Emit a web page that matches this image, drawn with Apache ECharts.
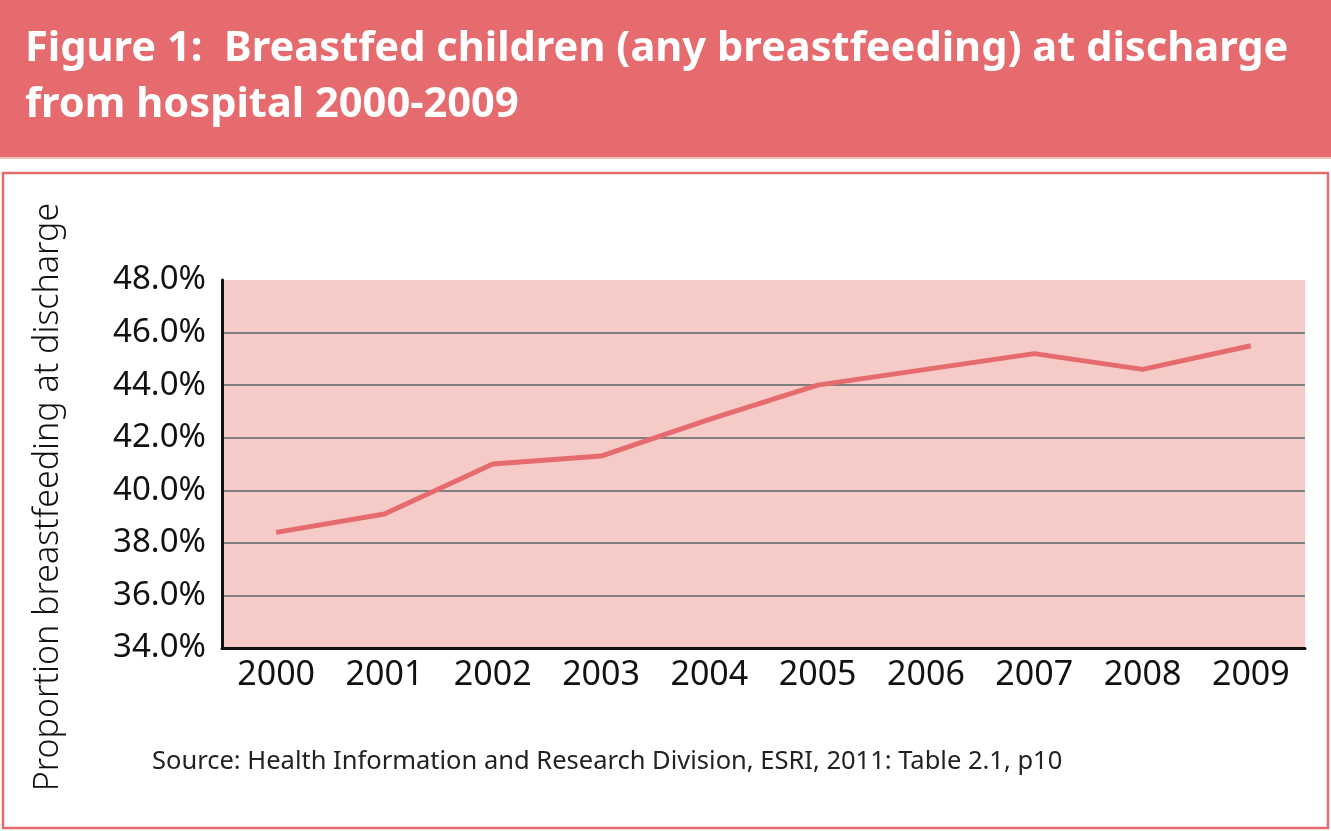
<!DOCTYPE html>
<html>
<head>
<meta charset="utf-8">
<script src="https://cdn.jsdelivr.net/npm/echarts@6/dist/echarts.min.js"></script>
<style>
html,body{margin:0;padding:0;background:#fff;}
#main{width:1331px;height:831px;}
</style>
</head>
<body>
<div id="main"></div>
<script>
const titleLines = ['Figure 1:  Breastfed children (any breastfeeding) at discharge', 'from hospital 2000-2009'];
const sourceText = 'Source: Health Information and Research Division, ESRI, 2011: Table 2.1, p10';
const yAxisTitle = 'Proportion breastfeeding at discharge';
const years = ['2000','2001','2002','2003','2004','2005','2006','2007','2008','2009'];
const breastfedPct = [38.4, 39.1, 41.0, 41.3, 42.7, 44.0, 44.6, 45.2, 44.6, 45.5];
const yTicks = {min: 34, max: 48, interval: 2};

const red = '#e66b6e';
const chart = echarts.init(document.getElementById('main'), null, {renderer: 'canvas'});
chart.setOption({
  backgroundColor: '#fff',
  animation: false,
  graphic: [
    {type: 'rect', shape: {x: 0, y: 0, width: 1331, height: 157}, style: {fill: red}, z: 0},
    {type: 'rect', shape: {x: 0, y: 157, width: 1331, height: 2}, style: {fill: '#f4c3c0'}, z: 0},
    {type: 'rect', shape: {x: 3, y: 173, width: 1325, height: 655}, style: {fill: 'none', stroke: red, lineWidth: 2.5}, z: 0},
    {type: 'text', left: 25, top: 21, style: {text: titleLines.join('\n'), fill: '#fff', font: 'bold 41.6px "Noto Sans"', lineHeight: 56}, z: 10},
    {type: 'text', left: 152, top: 749, style: {text: sourceText, fill: '#222', font: '25.5px "Noto Sans"'}, z: 10},
    {type: 'text', x: 48, y: 497, rotation: Math.PI / 2,
     style: {text: yAxisTitle, fill: '#111', font: '300 34px "Noto Sans"', align: 'center', verticalAlign: 'middle'}, z: 10}
  ],
  grid: {left: 222, right: 26, top: 280, bottom: 183, show: true, backgroundColor: '#f6cbc7', borderWidth: 0},
  xAxis: {
    type: 'category',
    data: years,
    boundaryGap: true,
    axisLine: {lineStyle: {color: '#111', width: 3}},
    axisTick: {show: false},
    axisLabel: {color: '#111', fontSize: 34, fontFamily: 'Noto Sans', margin: 10}
  },
  yAxis: {
    type: 'value',
    min: yTicks.min, max: yTicks.max, interval: yTicks.interval,
    axisLine: {show: true, lineStyle: {color: '#111', width: 3}},
    axisTick: {show: false},
    splitLine: {showMaxLine: false, lineStyle: {color: '#7f7f7f', width: 2}},
    axisLabel: {color: '#111', fontSize: 33, fontFamily: 'Noto Sans', margin: 16, formatter: v => v.toFixed(1) + '%'}
  },
  series: [{
    type: 'line',
    data: breastfedPct,
    symbol: 'none',
    lineStyle: {color: red, width: 5},
    z: 5
  }]
});
</script>
</body>
</html>
